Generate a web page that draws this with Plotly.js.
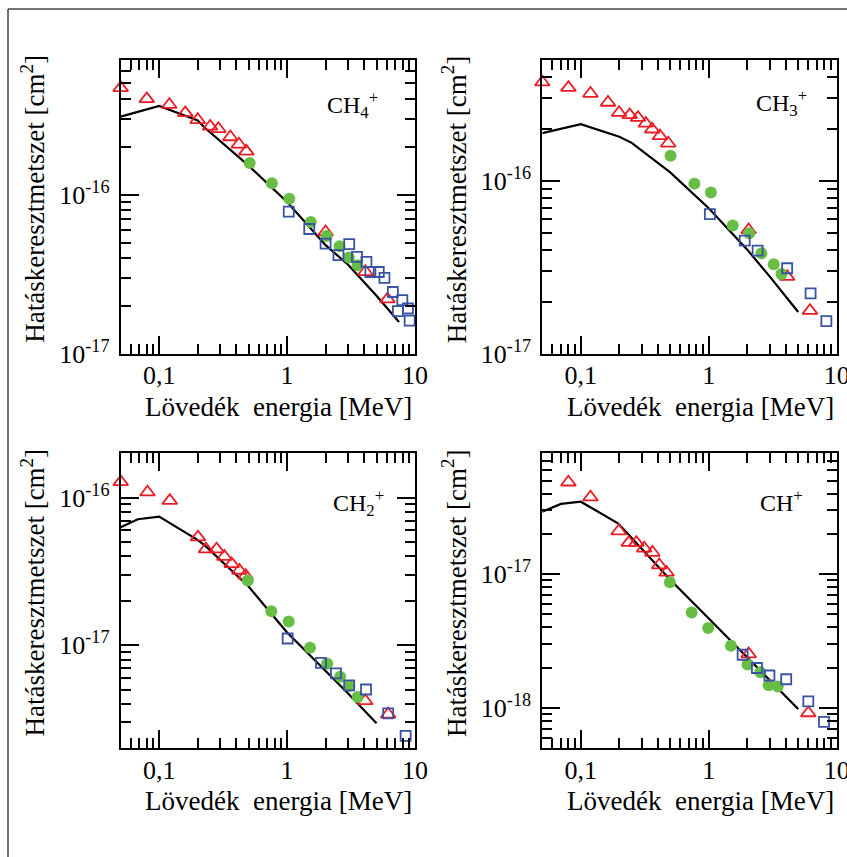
<!DOCTYPE html>
<html>
<head>
<meta charset="utf-8">
<script src="https://cdn.plot.ly/plotly-3.0.1.min.js"></script>
<style>html,body{margin:0;padding:0;background:#fff;}</style>
</head>
<body>
<div id="chart" style="width:847px;height:857px;"></div>
<script>
// ---- Panel titles ----
const panelLabels = ['CH<sub>4</sub><sup>+</sup>', 'CH<sub>3</sub><sup>+</sup>', 'CH<sub>2</sub><sup>+</sup>', 'CH<sup>+</sup>'];

// ---- CH4+ ----
const ch4TriX = [0.05,0.08,0.12,0.16,0.2,0.25,0.29,0.36,0.42,0.48,2.0,4.1,6.1];
const ch4TriY = [4.68e-16,3.99e-16,3.67e-16,3.26e-16,2.95e-16,2.68e-16,2.59e-16,2.3e-16,2.07e-16,1.87e-16,5.83e-17,3.28e-17,2.21e-17];
const ch4CircX = [0.51,0.76,1.04,1.53,2.04,2.57,3.04,3.55];
const ch4CircY = [1.58e-16,1.18e-16,9.44e-17,6.74e-17,5.5e-17,4.75e-17,4.03e-17,3.6e-17];
const ch4SqX = [1.03,1.49,2.0,2.52,3.06,3.52,4.17,4.48,5.21,5.77,6.71,7.35,7.96,8.81,9.08];
const ch4SqY = [7.83e-17,6.09e-17,4.93e-17,4.17e-17,4.89e-17,4.07e-17,3.79e-17,3.27e-17,3.27e-17,3.0e-17,2.45e-17,1.86e-17,2.18e-17,1.93e-17,1.62e-17];
const ch4LineX = [0.05,0.1,0.2,0.225,0.5,1,2,3,5,7.5];
const ch4LineY = [3.09e-16,3.6e-16,2.92e-16,2.65e-16,1.52e-16,9.0e-17,4.82e-17,3.63e-17,2.32e-17,1.59e-17];

// ---- CH3+ ----
const ch3TriX = [0.05,0.08,0.119,0.163,0.199,0.241,0.28,0.322,0.361,0.415,0.482,2.05,4.1,6.18];
const ch3TriY = [3.72e-16,3.46e-16,3.2e-16,2.84e-16,2.48e-16,2.41e-16,2.32e-16,2.15e-16,1.99e-16,1.82e-16,1.65e-16,5.21e-17,2.8e-17,1.78e-17];
const ch3CircX = [0.503,0.772,1.04,1.54,2.07,2.58,3.22,3.7];
const ch3CircY = [1.4e-16,9.65e-17,8.57e-17,5.52e-17,4.99e-17,3.82e-17,3.3e-17,2.9e-17];
const ch3SqX = [1.02,1.91,2.41,4.1,6.25,8.3];
const ch3SqY = [6.44e-17,4.52e-17,3.96e-17,3.13e-17,2.24e-17,1.55e-17];
const ch3LineX = [0.05,0.1,0.2,0.25,0.5,1,2,3,5];
const ch3LineY = [1.89e-16,2.13e-16,1.8e-16,1.66e-16,1.12e-16,6.95e-17,4.01e-17,2.8e-17,1.75e-17];

// ---- CH2+ ----
const ch2TriX = [0.05,0.081,0.121,0.201,0.232,0.281,0.323,0.369,0.424,0.473,4.09,6.17];
const ch2TriY = [1.28e-16,1.09e-16,9.55e-17,5.4e-17,4.48e-17,4.48e-17,3.99e-17,3.56e-17,3.21e-17,2.97e-17,4.19e-18,3.4e-18];
const ch2CircX = [0.493,0.753,1.03,1.51,2.06,2.6,3.06,3.56];
const ch2CircY = [2.75e-17,1.7e-17,1.45e-17,9.6e-18,7.48e-18,6.11e-18,5.29e-18,4.46e-18];
const ch2SqX = [1.01,1.84,2.41,3.06,4.14,6.17,8.45];
const ch2SqY = [1.11e-17,7.6e-18,6.44e-18,5.34e-18,5.01e-18,3.45e-18,2.43e-18];
const ch2LineX = [0.05,0.068,0.1,0.195,0.225,0.5,1,2,3,5];
const ch2LineY = [6.3e-17,7.14e-17,7.44e-17,5.24e-17,4.79e-17,2.5e-17,1.22e-17,6.68e-18,4.7e-18,2.96e-18];

// ---- CH+ ----
const chTriX = [0.08,0.119,0.198,0.237,0.272,0.313,0.363,0.41,0.468,2.05,6.0];
const chTriY = [4.86e-17,3.76e-17,2.1e-17,1.72e-17,1.72e-17,1.56e-17,1.45e-17,1.17e-17,1.03e-17,2.53e-18,9.18e-19];
const chCircX = [0.497,0.735,0.99,1.49,2.01,2.53,2.94,3.46];
const chCircY = [8.71e-18,5.18e-18,3.96e-18,2.92e-18,2.11e-18,1.85e-18,1.48e-18,1.45e-18];
const chSqX = [1.84,2.38,2.98,4.03,6.0,7.96];
const chSqY = [2.5e-18,1.99e-18,1.75e-18,1.64e-18,1.12e-18,7.87e-19];
const chLineX = [0.05,0.07,0.1,0.195,0.238,0.5,1,2,3,5];
const chLineY = [2.93e-17,3.35e-17,3.48e-17,2.4e-17,1.96e-17,9.1e-18,4.66e-18,2.39e-18,1.62e-18,9.84e-19];

// ---- Axis ticks ----
const xTickVals = [0.1, 1, 10];
const xTickText = ['0,1', '1', '10'];
const yRanges = [[1e-17, 7e-16], [1e-17, 5e-16], [2e-18, 2e-16], [5e-19, 8e-17]];
const yMajor = [[1e-17, 1e-16], [1e-17, 1e-16], [1e-17, 1e-16], [1e-18, 1e-17]];
const xTitle = 'Lövedék\u00a0 energia [MeV]';
const yTitle = 'Hatáskeresztmetszet [cm<sup>2</sup>]';

const panels = [
  {tx: ch4TriX, ty: ch4TriY, cx: ch4CircX, cy: ch4CircY, sx: ch4SqX, sy: ch4SqY, lx: ch4LineX, ly: ch4LineY},
  {tx: ch3TriX, ty: ch3TriY, cx: ch3CircX, cy: ch3CircY, sx: ch3SqX, sy: ch3SqY, lx: ch3LineX, ly: ch3LineY},
  {tx: ch2TriX, ty: ch2TriY, cx: ch2CircX, cy: ch2CircY, sx: ch2SqX, sy: ch2SqY, lx: ch2LineX, ly: ch2LineY},
  {tx: chTriX, ty: chTriY, cx: chCircX, cy: chCircY, sx: chSqX, sy: chSqY, lx: chLineX, ly: chLineY}
];

const W = 847, H = 857;
const boxes = [
  {x0: 120.7, x1: 415, y0: 60, y1: 354},
  {x0: 542.3, x1: 836.7, y0: 60, y1: 354},
  {x0: 120.7, x1: 415, y0: 453.3, y1: 748.3},
  {x0: 542.3, x1: 836.7, y0: 453.3, y1: 748.3}
];
const labelPos = [{x: 325, y: 105}, {x: 754, y: 103}, {x: 331, y: 503}, {x: 758, y: 501}];

const RED = '#ec1c24', GREEN = '#68bd45', BLUE = '#3953a4';
const FONT = 'Liberation Serif';

function decadeMinors(lo, hi) {
  const out = [];
  let d = Math.pow(10, Math.floor(Math.log10(lo) + 1e-9));
  while (d <= hi * 1.0001) {
    for (let k = 1; k <= 9; k++) {
      const v = k * d;
      if (v >= lo * 0.9999 && v <= hi * 1.0001) {
        const isMajor = Math.abs(Math.log10(v) - Math.round(Math.log10(v))) < 1e-9;
        if (!isMajor) out.push(v);
      }
    }
    d *= 10;
  }
  return out;
}

function supText(v) {
  return '10<sup>' + Math.round(Math.log10(v)) + '</sup>';
}

const traces = [];
const layout = {
  width: W, height: H,
  margin: {l: 0, r: 0, t: 0, b: 0},
  paper_bgcolor: '#fff', plot_bgcolor: '#fff',
  showlegend: false,
  font: {family: FONT, color: '#000', size: 26},
  annotations: [],
  shapes: [
    {type: 'line', xref: 'paper', yref: 'paper', x0: 8 / W, x1: 1, y0: 1 - 9 / H, y1: 1 - 9 / H, line: {color: '#444', width: 1.5}},
    {type: 'line', xref: 'paper', yref: 'paper', x0: 8 / W, x1: 8 / W, y0: 0, y1: 1 - 9 / H, line: {color: '#444', width: 1.5}}
  ]
};

const xMinor = decadeMinors(0.05, 10);

panels.forEach((p, i) => {
  const n = i + 1;
  const xa = 'x' + (n === 1 ? '' : n), ya = 'y' + (n === 1 ? '' : n);
  const b = boxes[i];
  traces.push({x: p.lx, y: p.ly, xaxis: xa, yaxis: ya, type: 'scatter', mode: 'lines',
    line: {color: '#000', width: 2.2}, hoverinfo: 'skip'});
  traces.push({x: p.tx, y: p.ty, xaxis: xa, yaxis: ya, type: 'scatter', mode: 'markers', cliponaxis: false,
    marker: {symbol: 'triangle-up-open', size: 13, color: RED, line: {width: 1.8, color: RED}}});
  traces.push({x: p.cx, y: p.cy, xaxis: xa, yaxis: ya, type: 'scatter', mode: 'markers', cliponaxis: false,
    marker: {symbol: 'circle', size: 12, color: GREEN, line: {width: 0}}});
  traces.push({x: p.sx, y: p.sy, xaxis: xa, yaxis: ya, type: 'scatter', mode: 'markers', cliponaxis: false,
    marker: {symbol: 'square-open', size: 10, color: BLUE, line: {width: 1.8, color: BLUE}}});

  const axCommon = {
    type: 'log', showgrid: false, zeroline: false, showline: true, linecolor: '#000', linewidth: 2,
    mirror: 'ticks', ticks: 'inside', ticklen: 18, tickwidth: 2, tickcolor: '#000',
    tickfont: {family: FONT, size: 26, color: '#000'}, tickmode: 'array', automargin: false,
    ticklabeloverflow: 'allow'
  };
  layout['xaxis' + (n === 1 ? '' : n)] = Object.assign({}, axCommon, {
    domain: [b.x0 / W, b.x1 / W], anchor: ya,
    range: [Math.log10(0.05), 1],
    tickvals: xTickVals, ticktext: xTickText, ticklabelstandoff: -3,
    minor: {tickmode: 'array', tickvals: xMinor, ticks: 'inside', ticklen: 10, tickwidth: 2, tickcolor: '#000', showgrid: false}
  });
  const yr = yRanges[i];
  layout['yaxis' + (n === 1 ? '' : n)] = Object.assign({}, axCommon, {
    domain: [1 - b.y1 / H, 1 - b.y0 / H], anchor: xa,
    range: [Math.log10(yr[0]), Math.log10(yr[1])],
    tickvals: yMajor[i], ticktext: yMajor[i].map(supText), ticklabelstandoff: 4,
    minor: {tickmode: 'array', tickvals: decadeMinors(yr[0], yr[1]), ticks: 'inside', ticklen: 10, tickwidth: 2, tickcolor: '#000', showgrid: false}
  });
  // axis titles placed as annotations for exact positioning
  layout.annotations.push({
    xref: 'paper', yref: 'paper', x: ((b.x0 + b.x1) / 2 + 11) / W, y: 1 - (b.y1 + 53) / H,
    xanchor: 'center', yanchor: 'middle', showarrow: false,
    text: xTitle, font: {family: FONT, size: 27, color: '#000'}
  });
  layout.annotations.push({
    xref: 'paper', yref: 'paper', x: (b.x0 - 88) / W, y: 1 - ((b.y0 + b.y1) / 2 - 8) / H,
    xanchor: 'center', yanchor: 'middle', showarrow: false, textangle: -90,
    text: yTitle, font: {family: FONT, size: 27, color: '#000'}
  });
  layout.annotations.push({
    xref: 'paper', yref: 'paper', x: labelPos[i].x / W, y: 1 - labelPos[i].y / H,
    xanchor: 'left', yanchor: 'middle', showarrow: false,
    text: panelLabels[i], font: {family: FONT, size: 24, color: '#000'}
  });
});

Plotly.newPlot('chart', traces, layout, {displayModeBar: false, staticPlot: true});
</script>
</body>
</html>
